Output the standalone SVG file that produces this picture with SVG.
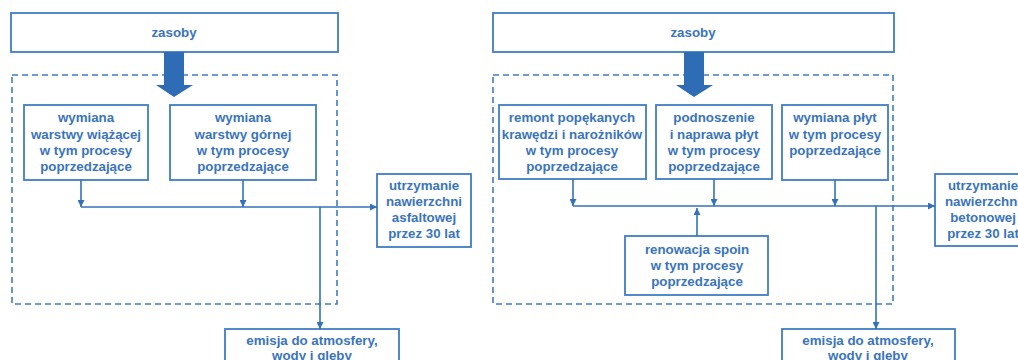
<svg xmlns="http://www.w3.org/2000/svg" width="1018" height="360" viewBox="0 0 1018 360">
<defs>
<style>
.box{fill:#fff;stroke:#3F7DC4;stroke-width:1.8}
.dash{fill:none;stroke:#3F7DC4;stroke-width:1.6;stroke-dasharray:6 4}
.t{font-family:"Liberation Sans",Arial,sans-serif;font-weight:bold;font-size:13.3px;fill:#3A74BC;text-anchor:middle}
.c{fill:none;stroke:#3371BA;stroke-width:1.6}
.big{fill:#2E6DB6}
</style>
<marker id="ah" viewBox="0 0 10 10" refX="10" refY="5" markerWidth="7" markerHeight="7" markerUnits="userSpaceOnUse" orient="auto">
<path d="M0,0 L10,5 L0,10 z" fill="#3371BA"/>
</marker>
</defs>
<rect width="1018" height="360" fill="#fff"/>

<!-- LEFT -->
<g id="zasoby1"><rect class="box" x="11" y="13" width="327" height="39"/><text class="t" x="174" y="37">zasoby</text></g>
<rect class="dash" x="12" y="75" width="325" height="229"/>
<g id="bigarrow1"><path class="big" d="M164,52 H184 V85 H193 L174,97 L156,85 H164 Z"/></g>
<g id="wiazacej"><rect class="box" x="24" y="105" width="124" height="75"/>
<text class="t" x="86" y="122">wymiana</text><text class="t" x="86" y="139">warstwy wiążącej</text><text class="t" x="86" y="155">w tym procesy</text><text class="t" x="86" y="171">poprzedzające</text></g>
<g id="gornej"><rect class="box" x="170" y="105" width="146" height="75"/>
<text class="t" x="243" y="122">wymiana</text><text class="t" x="243" y="139">warstwy górnej</text><text class="t" x="243" y="155">w tym procesy</text><text class="t" x="243" y="171">poprzedzające</text></g>
<g id="utrzymanie1"><rect class="box" x="377" y="174" width="94" height="73"/>
<text class="t" x="424" y="190">utrzymanie</text><text class="t" x="424" y="206">nawierzchni</text><text class="t" x="424" y="222">asfaltowej</text><text class="t" x="424" y="238">przez 30 lat</text></g>
<g id="emisja1"><rect class="box" x="225" y="329" width="174" height="40"/>
<text class="t" x="312" y="345">emisja do atmosfery,</text><text class="t" x="312" y="360">wody i gleby</text></g>

<!-- RIGHT -->
<g id="zasoby2"><rect class="box" x="493" y="13" width="401" height="39"/><text class="t" x="693" y="37">zasoby</text></g>
<rect class="dash" x="493" y="75" width="400" height="229"/>
<g id="bigarrow2"><path class="big" d="M684,52 H704 V85 H713 L694,97 L676,85 H684 Z"/></g>
<g id="remont"><rect class="box" x="499" y="105" width="147" height="74"/>
<text class="t" x="572" y="122">remont popękanych</text><text class="t" x="572" y="139">krawędzi i narożników</text><text class="t" x="572" y="155">w tym procesy</text><text class="t" x="572" y="171">poprzedzające</text></g>
<g id="podnoszenie"><rect class="box" x="656" y="105" width="116" height="74"/>
<text class="t" x="714" y="122">podnoszenie</text><text class="t" x="714" y="139">i naprawa płyt</text><text class="t" x="714" y="155">w tym procesy</text><text class="t" x="714" y="171">poprzedzające</text></g>
<g id="wymianaplyt"><rect class="box" x="782" y="105" width="106" height="75"/>
<text class="t" x="835" y="122">wymiana płyt</text><text class="t" x="835" y="139">w tym procesy</text><text class="t" x="835" y="155">poprzedzające</text></g>
<g id="renowacja"><rect class="box" x="625" y="236" width="143" height="59"/>
<text class="t" x="697" y="254">renowacja spoin</text><text class="t" x="697" y="270">w tym procesy</text><text class="t" x="697" y="286">poprzedzające</text></g>
<g id="utrzymanie2"><rect class="box" x="935" y="174" width="94" height="72"/>
<text class="t" x="983" y="190">utrzymanie</text><text class="t" x="983" y="206">nawierzchni</text><text class="t" x="983" y="222">betonowej</text><text class="t" x="983" y="238">przez 30 lat</text></g>
<g id="emisja2"><rect class="box" x="782" y="329" width="173" height="40"/>
<text class="t" x="868" y="345">emisja do atmosfery,</text><text class="t" x="868" y="360">wody i gleby</text></g>

<g id="connectors">
<path class="c" d="M81,180 V207" marker-end="url(#ah)"/>
<path class="c" d="M243,180 V207" marker-end="url(#ah)"/>
<path class="c" d="M81,207 H377" marker-end="url(#ah)"/>
<path class="c" d="M320,207 V329" marker-end="url(#ah)"/>
<path class="c" d="M573,179 V206" marker-end="url(#ah)"/>
<path class="c" d="M714,179 V206" marker-end="url(#ah)"/>
<path class="c" d="M835,180 V206" marker-end="url(#ah)"/>
<path class="c" d="M697,236 V208" marker-end="url(#ah)"/>
<path class="c" d="M573,206 H935" marker-end="url(#ah)"/>
<path class="c" d="M876,206 V329" marker-end="url(#ah)"/>
</g>
</svg>
